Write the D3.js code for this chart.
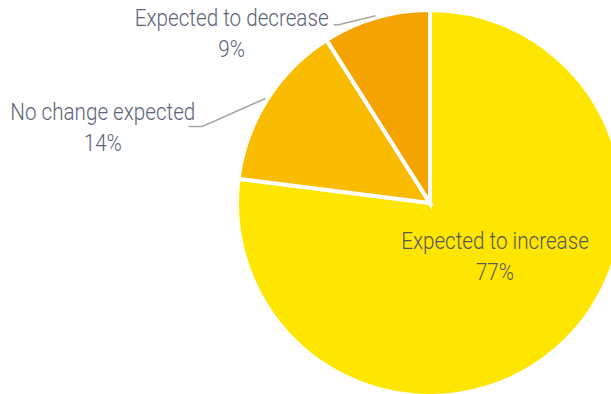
<!DOCTYPE html>
<html>
<head>
<meta charset="utf-8">
<script src="https://cdn.jsdelivr.net/npm/d3@7"></script>
<style>
  body { margin: 0; background: #fff; }
  svg { display: block; font-family: Roboto, sans-serif; font-weight: 300; }
</style>
</head>
<body>
<div id="chart"></div>
<script>
// survey answers, share of respondents (%)
const categories = ["Expected to increase", "No change expected", "Expected to decrease"];
const values = [77, 14, 9];
const valueLabels = ["77%", "14%", "9%"];
const colors = ["#FFE600", "#FABC00", "#F5A300"];

const width = 611, height = 394;
const cx = 430, cy = 203, radius = 193;
const squeeze = 0.86;   // fake a condensed face
const lineGap = 31;

// leader line shapes for the two outside labels (dx/dy to elbow, length of flat part, baseline shift)
const leaders = [
    null,
    { dx: -63, dy: 28, flat: 14, base: -7, pad: 7 },
    { dx: -37, dy: 9, flat: 5, base: 1, pad: -5 }
];

const svg = d3.select("#chart").append("svg")
    .attr("width", width)
    .attr("height", height);

const g = svg.append("g").attr("transform", `translate(${cx},${cy})`);

const pie = d3.pie().sort(null).value(d => d);
const arcs = pie(values);

const arc = d3.arc().innerRadius(0).outerRadius(radius);
const outerArc = d3.arc().innerRadius(radius + 2).outerRadius(radius + 2);

g.selectAll("path.slice")
    .data(arcs)
    .enter()
    .append("path")
    .attr("class", "slice")
    .attr("d", arc)
    .attr("fill", (d, i) => colors[i])
    .attr("stroke", "#fff")
    .attr("stroke-width", 4);

function addLabel(lines, color) {
    const t = g.append("text")
        .attr("text-anchor", "middle")
        .attr("fill", color)
        .style("font-size", "24px");
    lines.forEach((s, k) => {
        t.append("tspan").attr("x", 0).attr("y", k * lineGap).text(s);
    });
    return t;
}

// inside label for the big slice
addLabel([categories[0], valueLabels[0]], "#575757")
    .attr("transform", `translate(65,46) scale(${squeeze},1)`);

// outside labels with leader lines
arcs.forEach((d, i) => {
    const l = leaders[i];
    if (!l) return;
    const [sx, sy] = outerArc.centroid(d);
    const ex = sx + l.dx, ey = sy + l.dy;
    const fx = ex - l.flat;

    g.append("polyline")
        .attr("points", [[sx, sy], [ex, ey], [fx, ey]].map(p => p.join(",")).join(" "))
        .attr("fill", "none")
        .attr("stroke", "#a6a6a6")
        .attr("stroke-width", 1.5);

    const t = addLabel([categories[i], valueLabels[i]], "#5b6478");
    const w = t.select("tspan").node().getComputedTextLength() * squeeze;
    const mid = fx + l.pad - w / 2;
    t.attr("transform", `translate(${mid},${ey + l.base}) scale(${squeeze},1)`);
});
</script>
</body>
</html>
